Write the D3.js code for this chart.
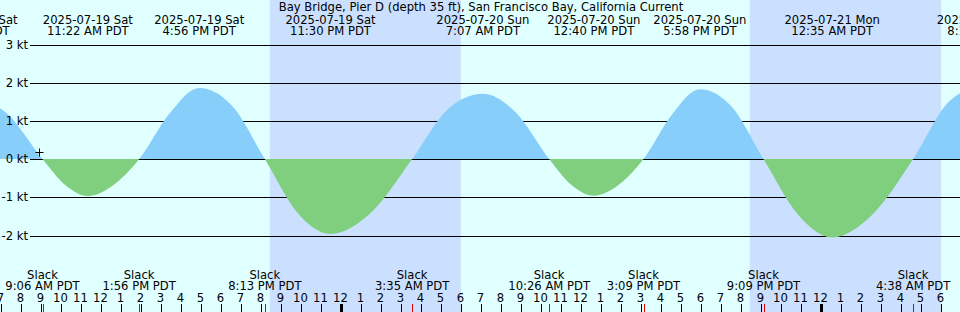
<!DOCTYPE html>
<html>
<head>
<meta charset="utf-8">
<script src="https://cdn.jsdelivr.net/npm/d3@7"></script>
<style>
  body { margin: 0; background: #fff; }
  text { font-family: "DejaVu Sans", sans-serif; font-size: 11.6px; fill: #000; }
</style>
</head>
<body>
<div id="chart"></div>
<script>
// station + values
var title = "Bay Bridge, Pier D (depth 35 ft), San Francisco Bay, California Current";

var maxTimes = ["2025-07-19 05:36", "2025-07-19 11:22", "2025-07-19 16:56", "2025-07-19 23:30",
                "2025-07-20 07:07", "2025-07-20 12:40", "2025-07-20 17:58", "2025-07-21 00:35",
                "2025-07-21 08:12"];
var slackTimes = ["2025-07-19 09:06", "2025-07-19 13:56", "2025-07-19 20:13", "2025-07-20 03:35",
                  "2025-07-20 10:26", "2025-07-20 15:09", "2025-07-20 21:09", "2025-07-21 04:38"];

// current curve samples (kt), positive = flood, negative = ebb
var curveTimes = ["2025-07-19 05:36", "2025-07-19 07:21",
  "2025-07-19 09:06", "2025-07-19 10:14", "2025-07-19 11:22", "2025-07-19 12:39",
  "2025-07-19 13:56", "2025-07-19 15:26", "2025-07-19 16:56", "2025-07-19 18:34",
  "2025-07-19 20:13", "2025-07-19 21:52", "2025-07-19 23:30", "2025-07-20 01:32",
  "2025-07-20 03:35", "2025-07-20 05:21", "2025-07-20 07:07", "2025-07-20 08:46",
  "2025-07-20 10:26", "2025-07-20 11:33", "2025-07-20 12:40", "2025-07-20 13:54",
  "2025-07-20 15:09", "2025-07-20 16:33", "2025-07-20 17:58", "2025-07-20 19:33",
  "2025-07-20 21:09", "2025-07-20 22:52", "2025-07-21 00:35", "2025-07-21 02:36",
  "2025-07-21 04:38", "2025-07-21 06:25", "2025-07-21 08:12"];
var curveKt = [1.65, 1.18,
  0, -0.68, -0.97, -0.68,
  0, 1.18, 1.86, 1.40,
  0, -1.42, -1.96, -1.40,
  0, 1.30, 1.71, 1.22,
  0, -0.68, -0.96, -0.68,
  0, 1.15, 1.83, 1.38,
  0, -1.45, -2.05, -1.45,
  0, 1.50, 1.95];

var nightStart = ["2025-07-19 20:28", "2025-07-20 20:28"];
var nightEnd = ["2025-07-20 06:01", "2025-07-21 06:02"];

var ktTicks = [3, 2, 1, 0, -1, -2];
var nowTime = "2025-07-19 08:55";
var nowKt = 0.18;

var parse = d3.timeParse("%Y-%m-%d %H:%M");
var parseS = d3.timeParse("%Y-%m-%d %H:%M:%S");

var width = 960, height = 312;

var svg = d3.select("#chart").append("svg")
    .attr("width", width)
    .attr("height", height)
    .style("display", "block");

var x = d3.scaleTime()
    .domain([parseS("2025-07-19 06:58:30"), parseS("2025-07-21 06:58:30")])
    .range([0, width]);
var y = d3.scaleLinear().domain([3, -2]).range([44.5, 235.5]);

// day / night background
svg.append("rect").attr("width", width).attr("height", height).attr("fill", "#e0ffff");
svg.selectAll(".night").data(nightStart).enter().append("rect")
    .attr("class", "night")
    .attr("x", function(d) { return x(parse(d)); })
    .attr("width", function(d, i) { return x(parse(nightEnd[i])) - x(parse(d)); })
    .attr("y", 0)
    .attr("height", height)
    .attr("fill", "#cbe0ff");

// grid lines
svg.selectAll(".grid").data(ktTicks).enter().append("line")
    .attr("x1", 30).attr("x2", width)
    .attr("y1", function(d) { return Math.round(y(d)) + 0.5; })
    .attr("y2", function(d) { return Math.round(y(d)) + 0.5; })
    .attr("stroke", "#000").attr("stroke-width", 1);

// curve fill, split at 0 kt
var pts = curveTimes.map(function(t, i) { return { t: parse(t), v: curveKt[i] }; });
var area = d3.area()
    .x(function(d) { return x(d.t); })
    .y0(y(0))
    .y1(function(d) { return y(d.v); })
    .curve(d3.curveMonotoneX);

var defs = svg.append("defs");
defs.append("clipPath").attr("id", "floodClip").append("rect")
    .attr("x", 0).attr("y", 0).attr("width", width).attr("height", y(0));
defs.append("clipPath").attr("id", "ebbClip").append("rect")
    .attr("x", 0).attr("y", y(0)).attr("width", width).attr("height", height - y(0));

svg.append("path").datum(pts).attr("d", area)
    .attr("fill", "#87cefa").attr("clip-path", "url(#floodClip)");
svg.append("path").datum(pts).attr("d", area)
    .attr("fill", "#7fcf7f").attr("clip-path", "url(#ebbClip)");

// y labels
svg.selectAll(".ylab").data(ktTicks).enter().append("text")
    .attr("x", 28)
    .attr("y", function(d) { return y(d); })
    .attr("dy", "0.36em")
    .attr("text-anchor", "end")
    .text(function(d) { return d + " kt"; });

// "now" marker
var nx = Math.round(x(parse(nowTime))) + 0.5, ny = Math.round(y(nowKt)) + 0.5;
svg.append("path")
    .attr("d", "M" + (nx - 4) + "," + ny + "H" + (nx + 4) + "M" + nx + "," + (ny - 4) + "V" + (ny + 4))
    .attr("stroke", "#000").attr("stroke-width", 1);

// title
svg.append("text").attr("x", 481).attr("y", 11).attr("text-anchor", "middle").text(title);

// max / min labels at top
var fDate = d3.timeFormat("%Y-%m-%d %a");
var fTime = d3.timeFormat("%-I:%M %p PDT");
var topLabs = svg.selectAll(".maxlab").data(maxTimes).enter().append("g");
topLabs.append("text")
    .attr("x", function(d) { return x(parse(d)); })
    .attr("y", 23.5)
    .attr("text-anchor", "middle")
    .text(function(d) { return fDate(parse(d)); });
topLabs.append("text")
    .attr("x", function(d) { return x(parse(d)); })
    .attr("y", 35)
    .attr("text-anchor", "middle")
    .text(function(d) { return fTime(parse(d)); });

// slack labels at bottom
var botLabs = svg.selectAll(".slacklab").data(slackTimes).enter().append("g");
botLabs.append("text")
    .attr("x", function(d) { return x(parse(d)); })
    .attr("y", 278.5)
    .attr("text-anchor", "middle")
    .text("Slack");
botLabs.append("text")
    .attr("x", function(d) { return x(parse(d)); })
    .attr("y", 290)
    .attr("text-anchor", "middle")
    .text(function(d) { return fTime(parse(d)); });

// hour ticks
var hours = x.ticks(d3.timeHour.every(1));
svg.selectAll(".hlab").data(hours).enter().append("text")
    .attr("x", function(d) { return x(d); })
    .attr("y", 301.5)
    .attr("text-anchor", "middle")
    .text(d3.timeFormat("%-I"));
svg.selectAll(".htick").data(hours).enter().append("line")
    .attr("x1", function(d) { return Math.round(x(d)) + 0.5; })
    .attr("x2", function(d) { return Math.round(x(d)) + 0.5; })
    .attr("y1", 304).attr("y2", height)
    .attr("stroke", "#000")
    .attr("stroke-width", function(d) { return d.getHours() === 0 ? 3 : 1; });

// slack ticks in red
svg.selectAll(".stick").data(slackTimes).enter().append("line")
    .attr("x1", function(d) { return Math.round(x(parse(d))) + 0.5; })
    .attr("x2", function(d) { return Math.round(x(parse(d))) + 0.5; })
    .attr("y1", 304).attr("y2", height)
    .attr("stroke", "#e00000").attr("stroke-width", 1);
</script>
</body>
</html>
